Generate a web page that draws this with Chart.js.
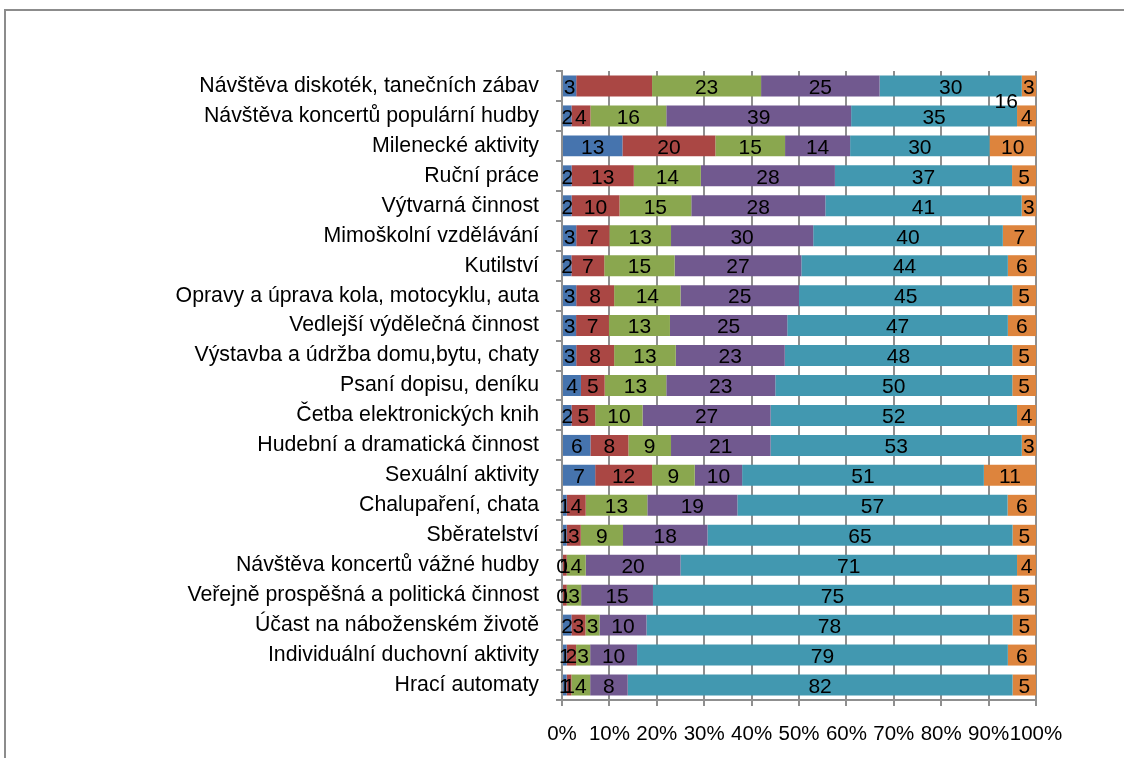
<!DOCTYPE html>
<html>
<head>
<meta charset="utf-8">
<script src="https://cdn.jsdelivr.net/npm/chart.js@4.4.1/dist/chart.umd.min.js"></script>
<style>
  html, body { margin: 0; padding: 0; background: #fff; overflow: hidden; }
  #frame { position: absolute; left: 4px; top: 9px; width: 1300px; height: 900px;
           border-left: 2px solid #8c8c8c; border-top: 2px solid #8c8c8c; }
  #wrap { position: absolute; left: 0; top: 0; width: 1124px; height: 758px; }
</style>
</head>
<body>
<div id="frame"></div>
<div id="wrap"><canvas id="c" width="1124" height="758"></canvas></div>
<script>
const categories = [
  "Návštěva diskoték, tanečních zábav",
  "Návštěva koncertů populární hudby",
  "Milenecké aktivity",
  "Ruční práce",
  "Výtvarná činnost",
  "Mimoškolní vzdělávání",
  "Kutilství",
  "Opravy a úprava kola, motocyklu, auta",
  "Vedlejší výdělečná činnost",
  "Výstavba a údržba domu,bytu, chaty",
  "Psaní dopisu, deníku",
  "Četba elektronických knih",
  "Hudební a dramatická činnost",
  "Sexuální aktivity",
  "Chalupaření, chata",
  "Sběratelství",
  "Návštěva koncertů vážné hudby",
  "Veřejně prospěšná a politická činnost",
  "Účast na náboženském životě",
  "Individuální duchovní aktivity",
  "Hrací automaty"
];
const seriesNames = ["Řada 1", "Řada 2", "Řada 3", "Řada 4", "Řada 5", "Řada 6"];
const series1 = [3, 2, 13, 2, 2, 3, 2, 3, 3, 3, 4, 2, 6, 7, 1, 1, 0, 0, 2, 1, 1];
const series2 = [16, 4, 20, 13, 10, 7, 7, 8, 7, 8, 5, 5, 8, 12, 4, 3, 1, 1, 3, 2, 1];
const series3 = [23, 16, 15, 14, 15, 13, 15, 14, 13, 13, 13, 10, 9, 9, 13, 9, 4, 3, 3, 3, 4];
const series4 = [25, 39, 14, 28, 28, 30, 27, 25, 25, 23, 23, 27, 21, 10, 19, 18, 20, 15, 10, 10, 8];
const series5 = [30, 35, 30, 37, 41, 40, 44, 45, 47, 48, 50, 52, 53, 51, 57, 65, 71, 75, 78, 79, 82];
const series6 = [3, 4, 10, 5, 3, 7, 6, 5, 6, 5, 5, 4, 3, 11, 6, 5, 4, 5, 5, 6, 5];
const tickLabels = ["0%", "10%", "20%", "30%", "40%", "50%", "60%", "70%", "80%", "90%", "100%"];

const allSeries = [series1, series2, series3, series4, series5, series6];
const colors = ["#4674AE", "#AA4744", "#8AA74F", "#71598F", "#4298B0", "#DD843D"];

// 100 % stacking: each row is scaled to its own total
const rowTotals = categories.map((_, i) => allSeries.reduce((s, arr) => s + arr[i], 0));
const datasets = allSeries.map((arr, k) => ({
  label: seriesNames[k],
  data: arr.map((v, i) => v / rowTotals[i] * 100),
  raw: arr,
  backgroundColor: colors[k],
  borderWidth: 0,
  barPercentage: 0.7,
  categoryPercentage: 1.0
}));

// one label in the original was dragged away from its segment
const movedLabel = { dataset: 1, index: 0, xValue: 93.7, yIndex: 0.47 };

const FONT = "'Liberation Sans', Arial, sans-serif";

const labelPlugin = {
  id: 'segLabels',
  afterDatasetsDraw(chart) {
    const ctx = chart.ctx;
    ctx.save();
    ctx.font = "21px " + FONT;
    ctx.fillStyle = "#000";
    ctx.textAlign = "center";
    ctx.textBaseline = "middle";
    chart.data.datasets.forEach((ds, k) => {
      const meta = chart.getDatasetMeta(k);
      meta.data.forEach((bar, i) => {
        const txt = String(ds.raw[i]);
        if (k === movedLabel.dataset && i === movedLabel.index) {
          const x = chart.scales.x.getPixelForValue(movedLabel.xValue);
          const y = chart.scales.y.getPixelForValue(movedLabel.yIndex);
          ctx.fillText(txt, x, y + 2);
          return;
        }
        const cx = (bar.x + bar.base) / 2;
        ctx.fillText(txt, cx, bar.y + 2);
      });
    });
    ctx.restore();
  }
};

new Chart(document.getElementById('c'), {
  type: 'bar',
  data: { labels: categories, datasets },
  options: {
    indexAxis: 'y',
    responsive: false,
    animation: false,
    events: [],
    layout: { padding: { top: 71, right: 88, bottom: 0, left: 0 } },
    plugins: { legend: { display: false }, tooltip: { enabled: false } },
    scales: {
      x: {
        stacked: true,
        min: 0, max: 100,
        afterFit(scale) { scale.height = 58; },
        afterBuildTicks(scale) {
          scale.ticks = tickLabels.map((_, i) => ({ value: i * 10 }));
        },
        ticks: {
          autoSkip: false,
          maxRotation: 0,
          padding: 16,
          color: "#000",
          font: { family: FONT, size: 20.5 },
          callback: (v, i) => tickLabels[i]
        },
        grid: { color: "#8f8f8f", lineWidth: 2, tickLength: 6, drawTicks: true },
        border: { display: true, color: "#8f8f8f", width: 2 }
      },
      y: {
        stacked: true,
        afterFit(scale) { scale.width = 562; },
        ticks: {
          autoSkip: false,
          padding: 17,
          color: "#000",
          font: { family: FONT, size: 21.3 }
        },
        grid: { drawOnChartArea: false, drawTicks: true, tickLength: 6, color: "#8f8f8f", lineWidth: 2 },
        border: { display: true, color: "#8f8f8f", width: 2 }
      }
    }
  },
  plugins: [labelPlugin]
});
</script>
</body>
</html>
